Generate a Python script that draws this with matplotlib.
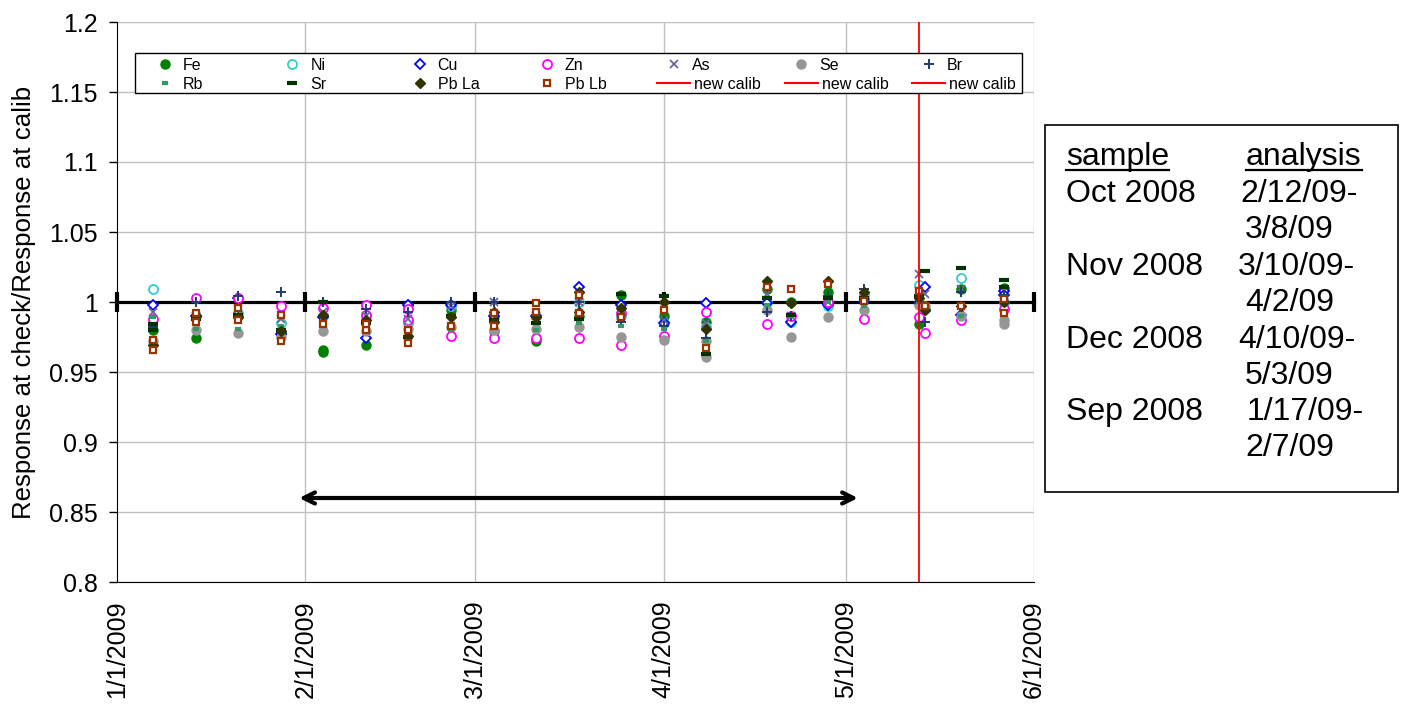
import matplotlib
matplotlib.use("Agg")
import matplotlib.pyplot as plt
from matplotlib.lines import Line2D
from matplotlib.patches import Rectangle
import numpy as np
from datetime import datetime

plt.rcParams['font.family'] = ['Liberation Sans', 'DejaVu Sans']
nan = np.nan

# ---------------- data ----------------
dates = ['2009-01-07', '2009-01-14', '2009-01-21', '2009-01-28', '2009-02-04', '2009-02-11',
         '2009-02-18', '2009-02-25', '2009-03-04', '2009-03-11', '2009-03-18', '2009-03-25',
         '2009-04-01', '2009-04-08', '2009-04-18', '2009-04-22', '2009-04-28', '2009-05-04',
         '2009-05-13', '2009-05-14', '2009-05-20', '2009-05-27']

fe = [0.980, 0.974, 0.990, 0.978, 0.966, 0.969, 0.998, 0.994, 0.979, 0.972, 0.990, 1.005,
      0.990, 0.986, 1.009, 1.000, 1.007, 1.002, 0.984, 0.995, 1.009, 1.010]
ni = [1.009, 0.990, 0.992, 0.985, 0.990, 0.990, 0.985, 0.997, 0.989, 0.990, 1.000, 0.990,
      0.985, 0.982, 1.000, 0.986, 0.997, 1.005, 1.012, 0.995, 1.017, 1.000]
cu = [0.998, 0.990, 1.003, 0.977, 0.989, 0.974, 0.998, 0.998, 0.990, 0.990, 1.011, 0.998,
      0.985, 0.999, 0.999, 0.986, 0.998, 1.000, 0.999, 1.011, 0.991, 1.008]
zn = [0.988, 1.003, 1.003, 0.997, 0.996, 0.998, 0.987, 0.976, 0.974, 0.974, 0.974, 0.969,
      0.976, 0.993, 0.984, 0.990, 1.000, 0.988, 0.989, 0.978, 0.987, 0.995]
as_ = [0.993, 0.990, 0.995, 0.988, 0.993, 0.990, 0.988, 0.997, 1.000, 0.990, 1.000, 0.990,
       0.987, 0.985, 1.006, 0.990, 1.000, 1.003, 1.020, 1.006, 1.009, 1.000]
se = [0.972, 0.980, 0.978, 0.975, 0.979, 0.979, 0.981, 0.982, 0.980, 0.981, 0.982, 0.975,
      0.973, 0.961, 0.994, 0.975, 0.989, 0.994, 0.998, 0.997, 0.990, 0.984]
br = [0.982, 1.000, 1.004, 1.007, 1.000, 0.995, 0.993, 1.000, 1.000, 0.990, 1.000, 0.986,
      0.983, 0.974, 0.993, 0.990, 1.004, 1.009, 0.999, 0.986, 1.007, 1.005]
rb = [0.989, 0.981, 0.981, 0.983, 0.987, 0.983, 0.978, 0.980, 0.985, 0.980, 0.985, 0.983,
      0.981, 0.972, 0.998, 0.990, 1.000, 0.997, 1.000, 0.998, 0.990, 1.010]
sr = [0.984, 0.988, 0.991, 0.980, 1.000, 0.985, 0.975, 0.990, 0.987, 0.985, 0.988, 1.006,
      1.004, 0.963, 1.003, 0.991, 1.003, 1.003, 1.004, 1.022, 1.024, 1.016]
pb_la = [0.969, 0.990, 0.989, 0.979, 0.991, 0.987, 0.976, 0.989, 0.993, 0.989, 1.007, 0.996,
         1.000, 0.981, 1.015, 0.999, 1.015, 1.007, 1.003, 0.994, 0.997, 1.000]
pb_lb = [0.966, 0.986, 0.987, 0.972, 0.984, 0.980, 0.971, 0.983, 0.983, 0.993, 1.005, 0.989,
         0.994, 0.967, 1.011, 1.009, 1.013, 1.001, 1.008, 0.997, 0.997, 0.992]

# second check-standard readings on the same dates (nan = none visible)
fe_2 = [nan, nan, nan, nan, 0.964, nan, nan, nan, nan, nan, nan, nan,
        nan, nan, nan, nan, nan, nan, nan, nan, nan, nan]
cu_2 = [nan, nan, nan, nan, nan, nan, nan, nan, nan, nan, nan, nan,
        nan, nan, nan, nan, nan, nan, nan, nan, nan, 1.005]
zn_2 = [nan, nan, nan, nan, nan, 0.991, 0.995, nan, nan, nan, nan, 0.992,
        nan, nan, nan, nan, nan, nan, nan, nan, nan, nan]
se_2 = [nan, nan, nan, nan, nan, nan, nan, nan, nan, nan, nan, nan,
        nan, 0.972, nan, nan, nan, nan, nan, nan, nan, 0.987]
sr_2 = [0.980, nan, nan, nan, nan, nan, nan, nan, nan, nan, nan, nan,
        nan, nan, nan, nan, nan, nan, nan, nan, nan, 1.011]
pb_la_2 = [nan, nan, nan, nan, nan, nan, nan, nan, 0.986, nan, 0.993, nan,
           nan, nan, nan, nan, nan, nan, nan, nan, nan, nan]
pb_lb_2 = [0.973, 0.992, 0.996, 0.991, nan, 0.984, 0.980, nan, 0.992, 0.999, 0.992, nan,
           nan, nan, nan, nan, nan, nan, nan, nan, nan, 1.002]

ref_dates = ['2009-01-01', '2009-02-01', '2009-03-01', '2009-04-01', '2009-05-01', '2009-06-01']
ref_vals = [1.0, 1.0, 1.0, 1.0, 1.0, 1.0]

calib_date = '2009-05-13'
arrow_start = '2009-01-31'
arrow_end = '2009-05-03'
arrow_y = 0.86

month_ticks = ['2009-01-01', '2009-02-01', '2009-03-01', '2009-04-01', '2009-05-01', '2009-06-01']
month_labels = ['1/1/2009', '2/1/2009', '3/1/2009', '4/1/2009', '5/1/2009', '6/1/2009']
y_ticks = [0.8, 0.85, 0.9, 0.95, 1.0, 1.05, 1.1, 1.15, 1.2]
y_labels = ['0.8', '0.85', '0.9', '0.95', '1', '1.05', '1.1', '1.15', '1.2']

legend_row1 = ['Fe', 'Ni', 'Cu', 'Zn', 'As', 'Se', 'Br']
legend_row2 = ['Rb', 'Sr', 'Pb La', 'Pb Lb', 'new calib', 'new calib', 'new calib']

box_left = ['Oct 2008', 'Nov 2008', 'Dec 2008', 'Sep 2008']
box_right = [('2/12/09-', '3/8/09'), ('3/10/09-', '4/2/09'), ('4/10/09-', '5/3/09'), ('1/17/09-', '2/7/09')]

# ---------------- figure ----------------
W, H = 1401, 704
fig = plt.figure(figsize=(W / 100, H / 100), dpi=100)
ax = fig.add_axes([117 / W, 1 - 582 / H, (1034 - 117) / W, (582 - 22) / H])


def d(s):
    return datetime.strptime(s, '%Y-%m-%d')


def fx(px):
    return px / W


def fy(py):
    return 1 - py / H


xd = [d(s) for s in dates]

ax.set_xlim(d('2009-01-01'), d('2009-06-01'))
ax.set_ylim(0.8, 1.2)

# gridlines
for yv in y_ticks:
    ax.axhline(yv, color='#C0C0C0', lw=1.0, zorder=0)
for m in month_ticks[1:]:
    ax.axvline(d(m), color='#C0C0C0', lw=1.0, zorder=0)

# reference line at 1
ax.plot([d(s) for s in ref_dates], ref_vals, color='black', lw=2.3, marker='|',
        markersize=14, mew=3, zorder=1, clip_on=False)

styles = {
    'Fe': dict(marker='o', color='#008000', mfc='#008000', ms=6.5, mew=1),
    'Ni': dict(marker='o', color='#33CCCC', mfc='white', ms=6.5, mew=1.3),
    'Cu': dict(marker='D', color='#0000FF', mfc='white', ms=4.8, mew=1.3),
    'Zn': dict(marker='o', color='#FF00FF', mfc='white', ms=6.5, mew=1.3),
    'As': dict(marker='x', color='#666699', ms=5.5, mew=1.3),
    'Se': dict(marker='o', color='#969696', mfc='#969696', ms=6.5, mew=1),
    'Br': dict(marker='+', color='#1F3A6E', ms=7, mew=1.4),
    'Rb': dict(marker='_', color='#339966', ms=4, mew=3),
    'Sr': dict(marker='_', color='#003300', ms=6.5, mew=3),
    'Pb La': dict(marker='D', color='#333300', mfc='#333300', ms=5, mew=1),
    'Pb Lb': dict(marker='s', color='#993300', mfc='white', ms=5, mew=1.6),
}
series = [
    ('Fe', [fe, fe_2]), ('Ni', [ni]), ('Cu', [cu, cu_2]), ('Zn', [zn, zn_2]), ('As', [as_]),
    ('Se', [se, se_2]), ('Br', [br]), ('Rb', [rb]), ('Sr', [sr, sr_2]),
    ('Pb La', [pb_la, pb_la_2]), ('Pb Lb', [pb_lb, pb_lb_2]),
]

for i, (name, arrs) in enumerate(series):
    for vals in arrs:
        ax.plot(xd, np.array(vals, dtype=float), ls='none', zorder=3 + i, **styles[name])

# new calib line
ax.axvline(d(calib_date), color='#FF0000', lw=1.3, zorder=20)

# arrow
ax.annotate('', xy=(d(arrow_end), arrow_y), xytext=(d(arrow_start), arrow_y),
            arrowprops=dict(arrowstyle='<->,head_length=0.8,head_width=0.4', color='black',
                            lw=3, shrinkA=0, shrinkB=0), zorder=25)

# axes styling
for sp in ['top', 'right']:
    ax.spines[sp].set_visible(False)
ax.spines['left'].set_color('black')
ax.spines['bottom'].set_color('black')

ax.set_yticks(y_ticks)
ax.set_yticklabels(y_labels, fontsize=18)
ax.set_xticks([d(m) for m in month_ticks])
ax.set_xticklabels(month_labels, fontsize=18, rotation=90, va='top', ha='center')
ax.tick_params(axis='y', length=6, width=1, direction='out', pad=8)
ax.tick_params(axis='x', length=0, width=1, direction='out', pad=13)
ax.set_ylabel('Response at check/Response at calib', fontsize=18.6, labelpad=9)

# ---------------- legend (Excel-style fixed grid) ----------------
fig.add_artist(Rectangle((fx(135), fy(93)), (1022 - 135) / W, (93 - 53) / H,
                         transform=fig.transFigure, facecolor='white', edgecolor='black',
                         lw=1.0, zorder=30))
col_x0, col_dx = 165, 127.3
row_y = [64, 83]
for r, row in enumerate([legend_row1, legend_row2]):
    for c, name in enumerate(row):
        xc = col_x0 + c * col_dx
        yc = row_y[r]
        if name == 'new calib':
            fig.add_artist(Line2D([fx(xc - 17), fx(xc + 16)], [fy(yc), fy(yc)],
                                  color='#FF0000', lw=1.5, zorder=31))
            tx = xc + 20
        else:
            fig.add_artist(Line2D([fx(xc)], [fy(yc)], ls='none', zorder=31, **styles[name]))
            tx = xc + 18
        t = fig.text(fx(tx), fy(yc), name, fontsize=11.5, va='center_baseline', ha='left')
        t.set_zorder(32)

# ---------------- text box ----------------
fig.patches.append(Rectangle((fx(1045), fy(492)), (1398 - 1045) / W, (492 - 125) / H,
                             transform=fig.transFigure, fill=False, edgecolor='black', lw=1.2))

fs = 23
hdr1 = fig.text(fx(1066), fy(165), 'sample', fontsize=fs, va='baseline', ha='left')
hdr2 = fig.text(fx(1246), fy(165), 'analysis', fontsize=fs, va='baseline', ha='left')

row_base = [201.7, 275, 348, 420]
right_x1 = [1240, 1238, 1238, 1247]
for i, (lt, (r1, r2)) in enumerate(zip(box_left, box_right)):
    yb = row_base[i]
    fig.text(fx(1066), fy(yb), lt, fontsize=fs, va='baseline', ha='left')
    fig.text(fx(right_x1[i]), fy(yb), r1, fontsize=fs, va='baseline', ha='left')
    fig.text(fx(1245), fy(yb + 36.5), r2, fontsize=fs, va='baseline', ha='left')

fig.canvas.draw()
rend = fig.canvas.get_renderer()
for t in (hdr1, hdr2):
    bb = t.get_window_extent(renderer=rend)
    fig.add_artist(Line2D([bb.x0 / W, bb.x1 / W], [fy(170), fy(170)], color='black', lw=1.6))

fig.savefig('out.png', dpi=100)
